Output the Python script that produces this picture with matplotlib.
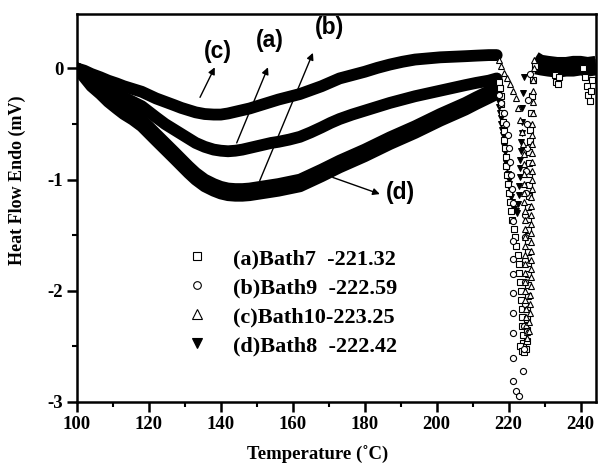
import matplotlib
matplotlib.use("Agg")
import matplotlib.pyplot as plt
import numpy as np
from matplotlib.lines import Line2D

plt.rcParams["font.family"] = ["Liberation Serif", "DejaVu Serif"]
plt.rcParams["font.weight"] = "bold"
plt.rcParams["axes.unicode_minus"] = False

# baseline part of the DSC traces (drawn as thick bands)
temp_pre = [100, 102, 104, 106.5, 108.7, 111, 113, 115.5, 118, 120,
            122, 124.5, 127, 129, 131, 133, 135.5, 138, 140, 142,
            144, 146, 148, 150, 152, 154, 156, 159, 162, 165,
            168, 170.5, 173, 176.5, 180, 183.5, 187, 190.5, 194, 197.5,
            201, 204.5, 208, 211, 214.5, 216.7]
flow_pre_a = [0.0, -0.05, -0.1, -0.14, -0.18, -0.22, -0.26, -0.3, -0.34, -0.39,
              -0.44, -0.5, -0.55, -0.59, -0.63, -0.67, -0.705, -0.73, -0.74, -0.745,
              -0.74, -0.73, -0.715, -0.7, -0.685, -0.67, -0.66, -0.64, -0.615, -0.575,
              -0.53, -0.49, -0.455, -0.415, -0.38, -0.345, -0.31, -0.28, -0.25, -0.225,
              -0.2, -0.175, -0.15, -0.13, -0.11, -0.09]
flow_pre_b = [0.0, -0.04, -0.1, -0.17, -0.24, -0.3, -0.35, -0.4, -0.46, -0.525,
              -0.59, -0.67, -0.75, -0.815, -0.88, -0.94, -1.0, -1.04, -1.065, -1.08,
              -1.085, -1.085, -1.08, -1.07, -1.06, -1.05, -1.04, -1.02, -1.0, -0.955,
              -0.91, -0.87, -0.83, -0.78, -0.73, -0.675, -0.62, -0.57, -0.52, -0.465,
              -0.41, -0.36, -0.31, -0.26, -0.205, -0.17]
flow_pre_c = [0.0, -0.02, -0.05, -0.08, -0.11, -0.135, -0.16, -0.185, -0.21, -0.24,
              -0.27, -0.3, -0.33, -0.355, -0.375, -0.395, -0.41, -0.415, -0.415, -0.405,
              -0.39, -0.375, -0.36, -0.34, -0.32, -0.3, -0.28, -0.255, -0.23, -0.195,
              -0.16, -0.125, -0.09, -0.06, -0.03, 0.005, 0.035, 0.06, 0.08, 0.09,
              0.1, 0.105, 0.11, 0.115, 0.12, 0.12]
flow_pre_d = [0.0, -0.08, -0.16, -0.23, -0.3, -0.36, -0.41, -0.46, -0.52, -0.585,
              -0.65, -0.73, -0.81, -0.875, -0.94, -1.0, -1.06, -1.1, -1.125, -1.14,
              -1.145, -1.145, -1.14, -1.13, -1.12, -1.11, -1.1, -1.08, -1.06, -1.015,
              -0.97, -0.93, -0.89, -0.84, -0.79, -0.735, -0.68, -0.63, -0.58, -0.525,
              -0.47, -0.42, -0.37, -0.32, -0.265, -0.23]

temp_post = [227.5, 229, 231, 233.5, 236, 238, 240, 242, 244.2]
flow_post_a = [0.03, 0.02, 0.01, 0.0, 0.01, 0.02, 0.02, 0.01, 0.02]
flow_post_b = [0.05, 0.04, 0.03, 0.02, 0.03, 0.03, 0.04, 0.03, 0.03]
flow_post_c = [0.1, 0.07, 0.06, 0.05, 0.05, 0.06, 0.06, 0.05, 0.06]
flow_post_d = [0.0, -0.01, -0.02, -0.03, -0.02, -0.02, -0.01, -0.02, -0.01]

# melting region (individual markers)
temp_melt_a = [217.2, 217.5, 217.8, 218.0, 218.2, 218.4, 218.6, 218.8, 219.0, 219.2,
               219.4, 219.6, 219.8, 220.0, 220.3, 220.6, 221.0, 221.4, 221.8, 222.2,
               222.5, 222.8, 223.0, 223.2, 223.4, 223.5, 223.6, 223.7, 223.8, 223.9,
               224.0, 224.1, 223.2, 223.8, 224.4, 224.8, 225.0, 225.1, 225.2, 225.2,
               225.3, 225.3, 225.3, 225.4, 225.4, 225.4, 225.5, 225.5, 225.5, 225.6,
               225.6, 225.7, 225.7, 225.8, 225.9, 226.0, 226.2, 226.5, 226.9, 227.3,
               232.9, 233.3, 233.7, 234.1, 240.8, 241.3, 241.8, 242.2, 242.6, 243.0,
               243.3]
flow_melt_a = [-0.12, -0.18, -0.25, -0.32, -0.4, -0.48, -0.56, -0.64, -0.72, -0.8,
               -0.88, -0.96, -1.04, -1.12, -1.2, -1.28, -1.36, -1.44, -1.52, -1.6,
               -1.68, -1.76, -1.84, -1.92, -2.0, -2.08, -2.16, -2.24, -2.32, -2.4,
               -2.47, -2.53, -2.5, -2.54, -2.55, -2.52, -2.45, -2.35, -2.25, -2.15,
               -2.05, -1.95, -1.85, -1.75, -1.65, -1.55, -1.45, -1.35, -1.25, -1.15,
               -1.05, -0.95, -0.85, -0.75, -0.65, -0.55, -0.4, -0.25, -0.1, 0.02,
               -0.06, -0.12, -0.14, -0.08, 0.0, -0.08, -0.16, -0.24, -0.29, -0.2,
               -0.1]

temp_melt_b = [217.3, 218.0, 218.7, 219.3, 219.8, 220.2, 220.5, 220.8, 221.0, 221.1,
               221.1, 221.1, 221.1, 221.1, 221.1, 221.2, 221.2, 221.2, 221.3, 222.0,
               223.0, 224.0, 224.3, 224.4, 224.5, 224.5, 224.6, 224.6, 224.7, 224.8,
               224.9, 225.0, 225.2, 225.5, 226.0]
flow_melt_b = [-0.24, -0.31, -0.4, -0.5, -0.6, -0.72, -0.84, -0.96, -1.08, -1.21,
               -1.37, -1.55, -1.71, -1.85, -2.02, -2.2, -2.38, -2.6, -2.81, -2.9,
               -2.95, -2.72, -2.52, -2.32, -2.12, -1.92, -1.72, -1.52, -1.32, -1.12,
               -0.92, -0.72, -0.5, -0.28, -0.05]

temp_melt_c = [217.4, 218.0, 218.8, 219.6, 220.4, 221.2, 222.0, 222.7, 223.3, 223.8,
               224.1, 224.2, 224.3, 224.3, 224.4, 224.4, 224.4, 224.5, 224.5, 224.5,
               224.5, 224.6, 224.6, 224.6, 224.6, 224.7, 224.7, 224.7, 224.8, 224.8,
               224.9, 225.0, 225.2, 225.6, 225.8, 225.9, 226.0, 226.0, 226.1, 226.1,
               226.1, 226.2, 226.2, 226.2, 226.2, 226.3, 226.3, 226.3, 226.3, 226.4,
               226.4, 226.4, 226.5, 226.5, 226.5, 226.6, 226.6, 226.7, 226.7, 226.8,
               226.9, 227.0, 227.2]
flow_melt_c = [0.08, 0.02, -0.04, -0.09, -0.14, -0.2, -0.27, -0.36, -0.46, -0.57,
               -0.68, -0.77, -0.86, -0.95, -1.04, -1.12, -1.2, -1.28, -1.36, -1.44,
               -1.52, -1.6, -1.68, -1.76, -1.84, -1.92, -2.0, -2.08, -2.16, -2.24,
               -2.31, -2.37, -2.42, -2.36, -2.28, -2.2, -2.12, -2.04, -1.96, -1.88,
               -1.8, -1.72, -1.64, -1.56, -1.48, -1.4, -1.32, -1.24, -1.16, -1.08,
               -1.0, -0.92, -0.84, -0.76, -0.68, -0.6, -0.5, -0.4, -0.3, -0.2,
               -0.1, 0.0, 0.08]

temp_melt_d = [217.0, 217.2, 217.4, 217.6, 217.8, 218.0, 218.2, 218.4, 218.6, 218.8,
               219.0, 219.2, 219.4, 219.6, 219.8, 220.0, 220.2, 220.4, 220.6, 220.8,
               221.0, 221.3, 221.6, 222.0, 222.4, 222.7, 222.9, 223.0, 223.1, 223.2,
               223.3, 223.4, 223.5, 223.6, 223.7, 223.8, 224.0, 224.3]
flow_melt_d = [-0.25, -0.3, -0.35, -0.4, -0.45, -0.5, -0.55, -0.6, -0.65, -0.7,
               -0.75, -0.8, -0.85, -0.9, -0.95, -1.0, -1.04, -1.08, -1.12, -1.16,
               -1.2, -1.23, -1.26, -1.28, -1.3, -1.22, -1.14, -1.06, -0.98, -0.9,
               -0.82, -0.74, -0.66, -0.58, -0.48, -0.36, -0.22, -0.08]

legend_labels = ["(a)Bath7  -221.32", "(b)Bath9  -222.59",
                 "(c)Bath10-223.25", "(d)Bath8  -222.42"]
curve_tags = ["(c)", "(a)", "(b)", "(d)"]

fig = plt.figure(figsize=(5.98, 4.65), dpi=100)
ax = fig.add_axes([0.1288, 0.1355, 0.8672, 0.8345])

band_w = 8.5
for flow_pre, flow_post in [(flow_pre_d, flow_post_d), (flow_pre_b, flow_post_b),
                            (flow_pre_a, flow_post_a), (flow_pre_c, flow_post_c)]:
    ax.plot(temp_pre, flow_pre, color="black", lw=band_w, solid_capstyle="round",
            solid_joinstyle="round", zorder=2)
    ax.plot(temp_post, flow_post, color="black", lw=band_w, solid_capstyle="butt",
            solid_joinstyle="round", zorder=2)

ax.plot(temp_melt_d, flow_melt_d, ls="none", marker="v", ms=5, mfc="black",
        mec="black", mew=0.7, zorder=3)
ax.plot(temp_melt_a, flow_melt_a, ls="none", marker="s", ms=4.2, mfc="white",
        mec="black", mew=0.8, zorder=3)
ax.plot(temp_melt_b, flow_melt_b, ls="none", marker="o", ms=4.4, mfc="white",
        mec="black", mew=0.8, zorder=3)
ax.plot(temp_melt_c, flow_melt_c, ls="none", marker="^", ms=4.8, mfc="white",
        mec="black", mew=0.8, zorder=4)

# curve labels with arrows
tag_font = dict(family="Liberation Sans", weight="bold", size=16.5)
arrow = dict(arrowstyle="-|>", color="black", lw=1.0, mutation_scale=10, shrinkA=0, shrinkB=0)
ax.annotate("", xy=(138.3, 0.01), xytext=(134.2, -0.26), arrowprops=arrow)
ax.annotate("", xy=(153.1, 0.01), xytext=(144.4, -0.67), arrowprops=arrow)
ax.annotate("", xy=(165.6, 0.14), xytext=(150.8, -1.01), arrowprops=arrow)
ax.annotate("", xy=(184.2, -1.13), xytext=(171.1, -0.98), arrowprops=arrow)
ax.text(139.2, 0.15, curve_tags[0], ha="center", va="center", **tag_font)
ax.text(153.6, 0.25, curve_tags[1], ha="center", va="center", **tag_font)
ax.text(170.3, 0.37, curve_tags[2], ha="center", va="center", **tag_font)
ax.text(190.0, -1.12, curve_tags[3], ha="center", va="center", **tag_font)

handles = [
    Line2D([], [], ls="none", marker="s", ms=5.5, mfc="white", mec="black", mew=0.8),
    Line2D([], [], ls="none", marker="o", ms=5.5, mfc="white", mec="black", mew=0.8),
    Line2D([], [], ls="none", marker="^", ms=6.5, mfc="white", mec="black", mew=0.8),
    Line2D([], [], ls="none", marker="v", ms=6.5, mfc="black", mec="black", mew=0.8),
]
ax.legend(handles, legend_labels, loc="center left", bbox_to_anchor=(0.21, 0.257),
          frameon=False, prop=dict(family="Liberation Serif", weight="bold", size=16),
          handlelength=1.0, handletextpad=1.1, labelspacing=0.38, borderpad=0,
          borderaxespad=0)

ax.set_xlim(100, 244.2)
ax.set_ylim(-3.0, 0.49)
ax.set_xticks([100, 120, 140, 160, 180, 200, 220, 240])
ax.set_xticks(np.arange(110, 245, 20), minor=True)
ax.set_yticks([-3, -2, -1, 0])
ax.set_yticks([-2.5, -1.5, -0.5], minor=True)
ax.tick_params(which="major", direction="out", length=7, width=1.8, labelsize=13.5, pad=3)
ax.tick_params(which="minor", direction="out", length=3.5, width=1.5)
for s in ax.spines.values():
    s.set_linewidth(1.8)

ax.set_xlabel("Temperature (˚C)", fontsize=13.5, fontweight="bold")
ax.set_ylabel("Heat Flow Endo (mV)", fontsize=13, fontweight="bold")
ax.xaxis.set_label_coords(0.463, -0.113)
ax.yaxis.set_label_coords(-0.098, 0.572)

fig.savefig("out.png", dpi=100)
